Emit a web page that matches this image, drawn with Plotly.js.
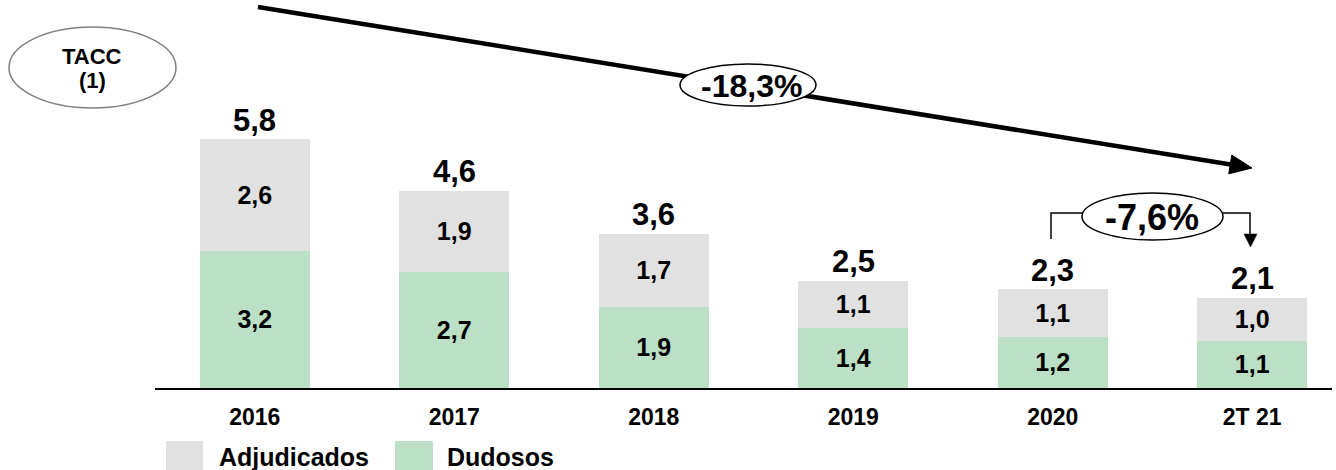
<!DOCTYPE html>
<html>
<head>
<meta charset="utf-8">
<script src="https://cdn.plot.ly/plotly-3.0.1.min.js"></script>
<style>html,body{margin:0;padding:0;background:#fff;}#chart{width:1336px;height:470px;}</style>
</head>
<body>
<div id="chart"></div>
<script>
const categories = ['2016', '2017', '2018', '2019', '2020', '2T 21'];
const dudosos = [3.2, 2.7, 1.9, 1.4, 1.2, 1.1];
const adjudicados = [2.6, 1.9, 1.7, 1.1, 1.1, 1.0];
const totals = [5.8, 4.6, 3.6, 2.5, 2.3, 2.1];
const seriesNames = ['Adjudicados', 'Dudosos'];
const cagrLong = '-18,3%';
const cagrShort = '-7,6%';
const cagrLabelLines = ['TACC', '(1)'];

const FONT = 'Arial, "Liberation Sans", sans-serif';
const GREY = '#E1E1E1';
const GREEN = '#BCE0C5';
const fmt = v => v.toFixed(1).replace('.', ',');
const b = s => '<b>' + s + '</b>';

// plot-area geometry (pixels) for placing decorations
const L = 155, T = 2, W = 1177, H = 386;
const px = x => (x - L) / W;
const py = y => (T + H - y) / H;
const P = (x, y) => px(x) + ',' + py(y);

const traces = [
  {
    type: 'bar', name: seriesNames[1], x: categories, y: dudosos,
    marker: {color: GREEN}, width: 0.55,
    text: dudosos.map(v => b(fmt(v))), textposition: 'inside', insidetextanchor: 'middle',
    textfont: {family: FONT, size: 25, color: '#000', weight: 'bold'},
    constraintext: 'none', hoverinfo: 'skip', showlegend: false
  },
  {
    type: 'bar', name: seriesNames[0], x: categories, y: adjudicados,
    marker: {color: GREY}, width: 0.55,
    text: adjudicados.map(v => b(fmt(v))), textposition: 'inside', insidetextanchor: 'middle',
    textfont: {family: FONT, size: 25, color: '#000', weight: 'bold'},
    constraintext: 'none', hoverinfo: 'skip', showlegend: false
  }
];

const annotations = categories.map((c, i) => ({
  x: i, y: totals[i], xref: 'x', yref: 'y', text: b(fmt(totals[i])),
  showarrow: false, xanchor: 'center', yanchor: 'middle', yshift: 19,
  font: {family: FONT, size: 31, color: '#000', weight: 'bold'}
}));

const ann = (x, y, text, size, xanchor) => ({
  xref: 'paper', yref: 'paper', x: px(x), y: py(y), text: b(text), showarrow: false,
  xanchor: xanchor || 'center', yanchor: 'middle',
  font: {family: FONT, size: size, color: '#000', weight: 'bold'}
});

annotations.push(
  ann(751, 86, cagrLong, 32),
  ann(1152, 217, cagrShort, 36),
  ann(92, 57, cagrLabelLines[0], 22),
  ann(92, 80, cagrLabelLines[1], 22),
  ann(217, 457, seriesNames[0], 25, 'left'),
  ann(445, 457, seriesNames[1], 25, 'left')
);

// big arrow head
const sx = 258, sy = 7, tx = 1252, ty = 168;
const dx = tx - sx, dy = ty - sy, len = Math.hypot(dx, dy);
const ux = dx / len, uy = dy / len;
const bx = tx - 22 * ux, by = ty - 22 * uy;
const hw = 9.5;
const headPath = 'M' + P(tx, ty) + ' L' + P(bx - hw * uy, by + hw * ux) + ' L' + P(bx + hw * uy, by - hw * ux) + ' Z';

const shapes = [
  {type: 'line', xref: 'paper', yref: 'paper', x0: px(sx), y0: py(sy), x1: px(bx + 2 * ux), y1: py(by + 2 * uy),
   line: {color: '#000', width: 4.5}},
  {type: 'path', xref: 'paper', yref: 'paper', path: headPath, fillcolor: '#000', line: {color: '#000', width: 1}},
  {type: 'circle', xref: 'paper', yref: 'paper', x0: px(680), x1: px(816), y0: py(106), y1: py(64),
   fillcolor: '#fff', line: {color: '#000', width: 1.5}},
  {type: 'circle', xref: 'paper', yref: 'paper', x0: px(9), x1: px(176), y0: py(108), y1: py(27),
   fillcolor: '#fff', line: {color: '#7F7F7F', width: 1.5}},
  {type: 'path', xref: 'paper', yref: 'paper', path: 'M' + P(1051, 239) + ' L' + P(1051, 213) + ' L' + P(1083, 213),
   line: {color: '#000', width: 1.5}},
  {type: 'path', xref: 'paper', yref: 'paper', path: 'M' + P(1222, 213) + ' L' + P(1250, 213) + ' L' + P(1250, 236),
   line: {color: '#000', width: 1.5}},
  {type: 'path', xref: 'paper', yref: 'paper', path: 'M' + P(1244, 234) + ' L' + P(1257, 234) + ' L' + P(1250.5, 247) + ' Z',
   fillcolor: '#000', line: {color: '#000', width: 0.5}},
  {type: 'circle', xref: 'paper', yref: 'paper', x0: px(1082), x1: px(1223), y0: py(240), y1: py(193),
   fillcolor: '#fff', line: {color: '#000', width: 1.5}},
  {type: 'rect', xref: 'paper', yref: 'paper', x0: px(166), x1: px(203), y0: py(472), y1: py(441),
   fillcolor: GREY, line: {width: 0}},
  {type: 'rect', xref: 'paper', yref: 'paper', x0: px(395), x1: px(433), y0: py(472), y1: py(441),
   fillcolor: GREEN, line: {width: 0}}
];

const layout = {
  width: 1336, height: 470,
  margin: {l: L, r: 1336 - L - W, t: T, b: 470 - T - H, pad: 0},
  barmode: 'stack',
  paper_bgcolor: '#fff', plot_bgcolor: '#fff',
  showlegend: false,
  font: {family: FONT, color: '#000'},
  xaxis: {
    type: 'category', range: [-0.5, 5.4], fixedrange: true,
    showline: true, linecolor: '#000', linewidth: 1.5, showgrid: false, zeroline: false,
    ticks: '', ticklabelstandoff: 8,
    tickfont: {family: FONT, size: 23, color: '#000', weight: 'bold'}
  },
  yaxis: {range: [0, 9.0], visible: false, fixedrange: true},
  annotations: annotations,
  shapes: shapes
};

Plotly.newPlot('chart', traces, layout, {displayModeBar: false, staticPlot: true});
</script>
</body>
</html>
